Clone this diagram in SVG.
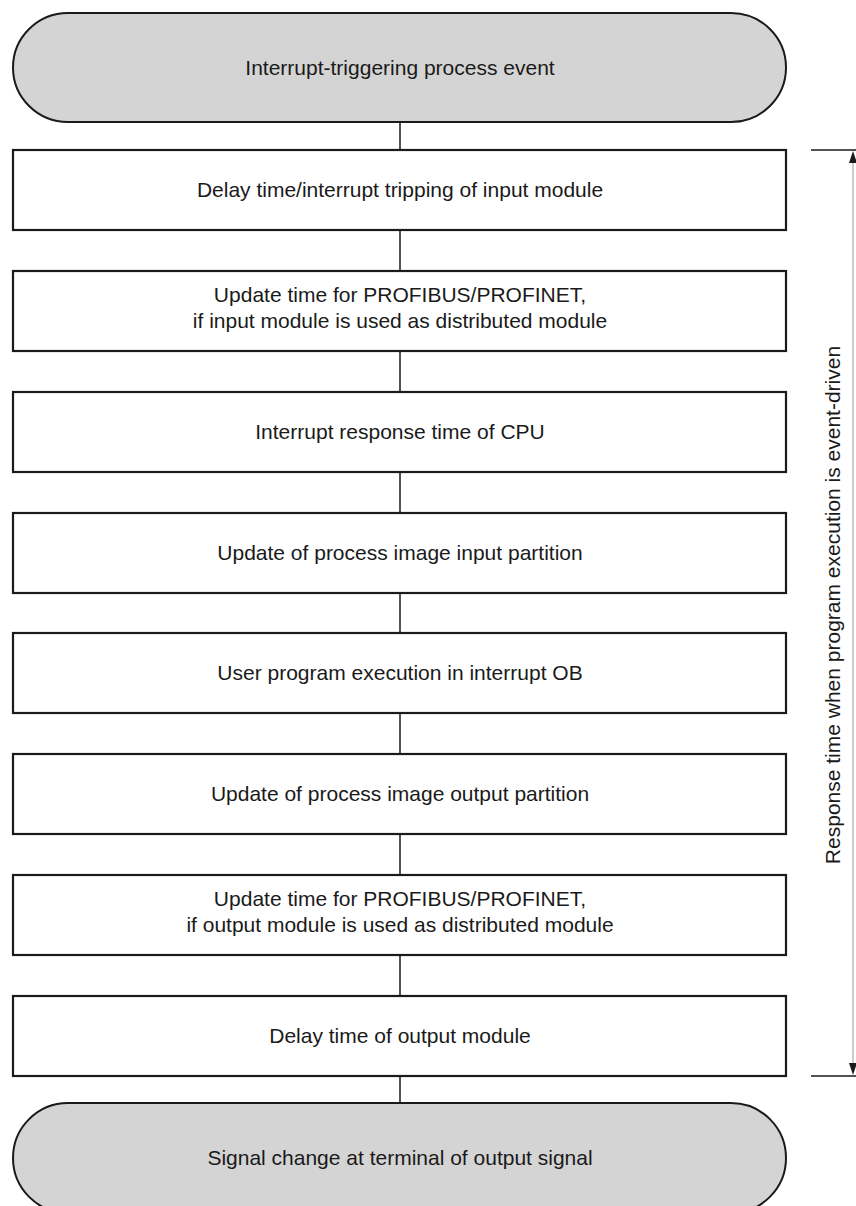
<svg xmlns="http://www.w3.org/2000/svg" width="856" height="1206" viewBox="0 0 856 1206">
<style>
.term{fill:#d4d4d4;stroke:#1a1a1a;stroke-width:2}
.box{fill:#ffffff;stroke:#1a1a1a;stroke-width:2.2}
.t{font-family:"Liberation Sans",Arial,sans-serif;font-size:21px;fill:#1a1a1a;text-anchor:middle}
.c{stroke:#1a1a1a;stroke-width:1.5;fill:none}
</style>
<rect width="856" height="1206" fill="#ffffff"/>
<g id="connectors">
<line class="c" x1="400" y1="122" x2="400" y2="150"/>
<line class="c" x1="400" y1="230" x2="400" y2="271"/>
<line class="c" x1="400" y1="351" x2="400" y2="392"/>
<line class="c" x1="400" y1="472" x2="400" y2="513"/>
<line class="c" x1="400" y1="593" x2="400" y2="633"/>
<line class="c" x1="400" y1="713" x2="400" y2="754"/>
<line class="c" x1="400" y1="834" x2="400" y2="875"/>
<line class="c" x1="400" y1="955" x2="400" y2="996"/>
<line class="c" x1="400" y1="1076" x2="400" y2="1103"/>
</g>
<g id="start">
<rect class="term" x="13" y="13" width="773" height="109" rx="55" ry="55"/>
<text class="t" x="400" y="75">Interrupt-triggering process event</text>
</g>
<g id="n1">
<rect class="box" x="13" y="150" width="773" height="80"/>
<text class="t" x="400" y="197">Delay time/interrupt tripping of input module</text>
</g>
<g id="n2">
<rect class="box" x="13" y="271" width="773" height="80"/>
<text class="t" x="400" y="302">Update time for PROFIBUS/PROFINET,</text>
<text class="t" x="400" y="328">if input module is used as distributed module</text>
</g>
<g id="n3">
<rect class="box" x="13" y="392" width="773" height="80"/>
<text class="t" x="400" y="439">Interrupt response time of CPU</text>
</g>
<g id="n4">
<rect class="box" x="13" y="513" width="773" height="80"/>
<text class="t" x="400" y="560">Update of process image input partition</text>
</g>
<g id="n5">
<rect class="box" x="13" y="633" width="773" height="80"/>
<text class="t" x="400" y="680">User program execution in interrupt OB</text>
</g>
<g id="n6">
<rect class="box" x="13" y="754" width="773" height="80"/>
<text class="t" x="400" y="801">Update of process image output partition</text>
</g>
<g id="n7">
<rect class="box" x="13" y="875" width="773" height="80"/>
<text class="t" x="400" y="906">Update time for PROFIBUS/PROFINET,</text>
<text class="t" x="400" y="932">if output module is used as distributed module</text>
</g>
<g id="n8">
<rect class="box" x="13" y="996" width="773" height="80"/>
<text class="t" x="400" y="1043">Delay time of output module</text>
</g>
<g id="end">
<rect class="term" x="13" y="1103" width="773" height="110" rx="55" ry="55"/>
<text class="t" x="400" y="1165">Signal change at terminal of output signal</text>
</g>
<g id="bracket">
<line class="c" x1="811" y1="150" x2="856" y2="150"/>
<line class="c" x1="811" y1="1076" x2="856" y2="1076"/>
<line x1="853" y1="158" x2="853" y2="1068" stroke="#999" stroke-width="1"/>
<polygon points="849,163 853,151 857,163" fill="#1a1a1a"/>
<polygon points="849,1063 853,1075 857,1063" fill="#1a1a1a"/>
<text class="t" transform="translate(840,605) rotate(-90)">Response time when program execution is event-driven</text>
</g>
</svg>
